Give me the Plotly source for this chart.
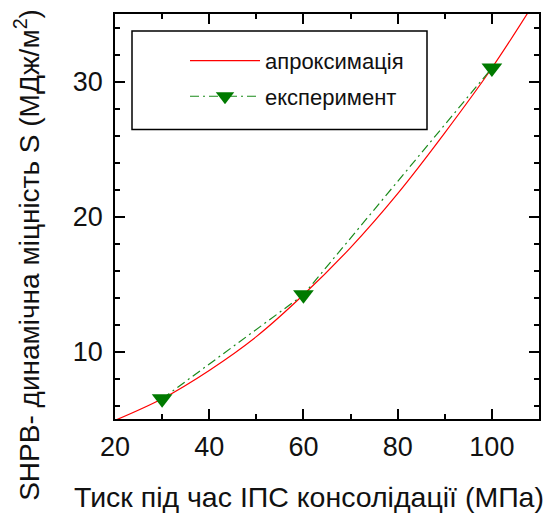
import plotly.graph_objects as go

# ---- data ----
pressure_fit = [20, 30, 40, 50, 60, 70, 80, 90, 100, 110]
strength_fit = [4.9, 6.5, 8.6, 11.1, 14.2, 17.7, 21.7, 26.2, 31.0, 36.4]
pressure_exp = [30, 60, 100]
strength_exp = [6.5, 14.2, 31.0]
x_tick_vals = [20, 40, 60, 80, 100]
y_tick_vals = [10, 20, 30]
series_names = ["апроксимація", "експеримент"]
x_title = "Тиск під час ІПС консолідації (МПа)"
y_title = "SHPB- динамічна міцність S (МДж/м<sup>2</sup>)"

FONT = "Arial, Liberation Sans, sans-serif"
W, H = 556, 515
ML, MR, MT, MB = 115, 17, 12, 96
PW, PH = W - ML - MR, H - MT - MB


def px_x(p):
    return (p - ML) / PW


def px_y(p):
    return (H - MB - p) / PH


fig = go.Figure()
fig.add_trace(go.Scatter(
    x=pressure_fit, y=strength_fit, mode="lines", name=series_names[0],
    line=dict(color="#ff0000", width=1.2, shape="spline"),
    legendgroup="a",
))
fig.add_trace(go.Scatter(
    x=pressure_exp, y=strength_exp, mode="lines+markers", name=series_names[1],
    line=dict(color="#1a8a1a", width=1.2, dash="9px,4px,2px,4px"),
    marker=dict(symbol="triangle-down", size=18, color="#007a00"),
    legendgroup="b",
))

axis_common = dict(
    showgrid=False, zeroline=False, showline=True, linecolor="black",
    linewidth=1.5, mirror="allticks", ticks="inside", ticklen=10,
    tickwidth=1.5, tickcolor="black",
    tickfont=dict(family=FONT, size=27, color="#111"),
)

fig.update_layout(
    width=W, height=H,
    margin=dict(l=ML, r=MR, t=MT, b=MB, pad=0),
    paper_bgcolor="white", plot_bgcolor="white",
    xaxis=dict(range=[20, 110], tickvals=x_tick_vals, ticklabelstandoff=3,
               minor=dict(ticks="inside", ticklen=5, dtick=10, tick0=0,
                          tickwidth=1.5, tickcolor="black"),
               **axis_common),
    yaxis=dict(range=[5, 35], tickvals=y_tick_vals, ticklabelstandoff=5,
               minor=dict(ticks="inside", ticklen=5, dtick=2, tick0=0,
                          tickwidth=1.5, tickcolor="black"),
               **axis_common),
    showlegend=True,
    legend=dict(
        x=px_x(185), y=px_y(38), xanchor="left", yanchor="top",
        bgcolor="rgba(0,0,0,0)", borderwidth=0,
        font=dict(family=FONT, size=22, color="#111"),
        itemwidth=70, tracegroupgap=4,
    ),
    shapes=[dict(type="rect", xref="paper", yref="paper",
                 x0=px_x(132), x1=px_x(427), y0=px_y(128), y1=px_y(29),
                 line=dict(color="black", width=1.5), fillcolor="rgba(0,0,0,0)")],
    annotations=[
        dict(text=x_title, xref="paper", yref="paper", x=px_x(309), y=px_y(497),
             xanchor="center", yanchor="middle", showarrow=False,
             font=dict(family=FONT, size=28.5, color="#111")),
        dict(text=y_title, xref="paper", yref="paper", x=px_x(27), y=px_y(254),
             xanchor="center", yanchor="middle", showarrow=False, textangle=-90,
             font=dict(family=FONT, size=28, color="#111")),
    ],
)

fig.write_html("out.html")
